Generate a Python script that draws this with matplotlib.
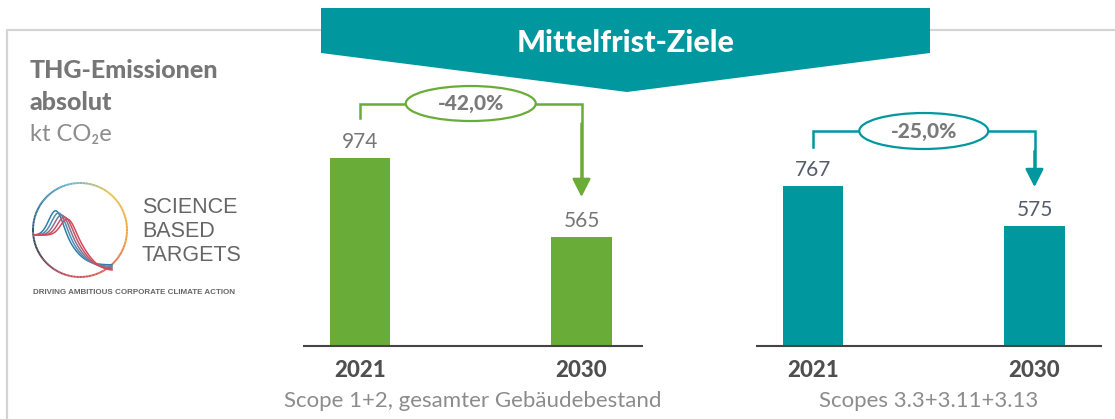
"""
THG-Emissionen absolut - Mittelfrist-Ziele (SBTi)
"""
import numpy as np
import matplotlib
matplotlib.use("Agg")
import matplotlib.pyplot as plt
from matplotlib.patches import Polygon, Ellipse
from matplotlib.collections import LineCollection

plt.rcParams["font.family"] = ["Lato", "DejaVu Sans"]

# ===== Daten =====
years = ["2021", "2030"]
scope12_values = [974, 565]
scope3_values = [767, 575]
scope12_change = "-42,0%"
scope3_change = "-25,0%"
scope12_label = "Scope 1+2, gesamter Gebäudebestand"
scope3_label = "Scopes 3.3+3.11+3.13"

# ===== Farben =====
GREEN = "#69ac37"
TEAL = "#00979f"
GRAY_DARK = "#4f4f4f"
GRAY = "#767676"
GRAY_LIGHT = "#8c8c8c"
FRAME = "#d4d4d4"

W, H = 1115, 419
fig = plt.figure(figsize=(W / 100, H / 100), dpi=100)

# Hintergrund-Achse in Pixelkoordinaten
bg = fig.add_axes([0, 0, 1, 1])
bg.set_xlim(0, W)
bg.set_ylim(H, 0)
bg.axis("off")

# Rahmen
bg.plot([7, 7, W], [H, 30, 30], color=FRAME, lw=1.6, solid_capstyle="butt")

# Banner
bg.add_patch(Polygon([(321, 8), (930, 8), (930, 53), (627, 92), (321, 53)],
                     closed=True, facecolor=TEAL, edgecolor="none", zorder=3))
bg.text(626, 43, "Mittelfrist-Ziele", color="white", fontsize=22, fontweight="black",
        ha="center", va="center", zorder=4)

# Überschrift links
bg.text(30, 70, "THG-Emissionen", color=GRAY, fontsize=18, fontweight="black", va="center")
bg.text(30, 102, "absolut", color=GRAY, fontsize=18, fontweight="black", va="center")
bg.text(30, 134, "kt CO₂e", color=GRAY_LIGHT, fontsize=17, va="center")

# SBTi-Logo (vereinfacht)
cx, cy, r = 80, 230, 47
theta = np.linspace(0, 2 * np.pi, 200)
pts = np.column_stack([cx + r * np.cos(theta), cy - r * np.sin(theta)])
segs = np.stack([pts[:-1], pts[1:]], axis=1)
ring_cmap = matplotlib.colors.LinearSegmentedColormap.from_list(
    "ring", ["#f0a73a", "#e8c24a", "#5fb3d1", "#2d6f94", "#3a3a4a", "#c9485b", "#e0604a", "#f0a73a"])
bg.add_collection(LineCollection(segs, colors=ring_cmap(np.linspace(0, 1, len(segs))), lw=1.4))
xs = np.linspace(34, 112, 120)
curve_cols = ["#2f7fa6", "#4f8db3", "#8a7090", "#c05468", "#d9485a"]
for i, c in enumerate(curve_cols):
    ys = (235 - (26 - 2 * i) * np.exp(-((xs - (56 + 3 * i)) / 10) ** 2)
          + (30 + 1.5 * i) / (1 + np.exp(-(xs - (75 + 3 * i)) / 7)))
    bg.plot(xs, ys, color=c, lw=1.1)
for k, word in enumerate(["SCIENCE", "BASED", "TARGETS"]):
    bg.text(142, 207 + 24 * k, word, color="#666666", fontsize=15.5,
            family="Liberation Sans", va="center")
bg.text(33, 292, "DRIVING AMBITIOUS CORPORATE CLIMATE ACTION", color="#666666",
        fontsize=5.8, family="Liberation Sans", fontweight="bold", va="center")


def bar_panel(x0, x1, px_per_unit, values, color, label_color, change, subtitle,
              start_gap, top_px_above, ell_w, ell_h):
    """Ein Balkenpanel zeichnen, Pixelposition x0..x1, Basislinie y=346"""
    base, top = 346, 30
    ax = fig.add_axes([x0 / W, 1 - base / H, (x1 - x0) / W, (base - top) / H])
    ax.patch.set_alpha(0)
    centers = np.arange(len(values))
    ax.bar(centers, values, width=0.275, color=color, zorder=2)
    ax.set_ylim(0, (base - top) / px_per_unit)
    spacing = 221.5
    ax.set_xlim(-56 / spacing, -56 / spacing + (x1 - x0) / spacing)
    for s in ["top", "right", "left"]:
        ax.spines[s].set_visible(False)
    ax.spines["bottom"].set_color("#444444")
    ax.spines["bottom"].set_linewidth(1.5)
    ax.set_yticks([])
    ax.set_xticks(centers)
    ax.set_xticklabels(years, fontsize=16, fontweight="black", color=GRAY_DARK)
    ax.tick_params(axis="x", length=0, pad=10)
    ax.set_xlabel(subtitle, fontsize=16, color=GRAY_LIGHT, labelpad=7)

    for xc, v in zip(centers, values):
        ax.annotate(str(v), (xc, v), xytext=(0, 4), textcoords="offset points",
                    ha="center", va="bottom", fontsize=15, color=label_color)

    # Klammer mit Pfeil
    gap = start_gap / px_per_unit
    y_top = values[0] + top_px_above / px_per_unit
    ew = ell_w / spacing
    eh = ell_h / px_per_unit
    ax.plot([0, 0, 0.5 - ew / 2], [values[0] + gap, y_top, y_top], color=color, lw=1.8,
            solid_joinstyle="miter")
    ax.plot([0.5 + ew / 2, 1, 1], [y_top, y_top, values[1] + gap + 10 / px_per_unit],
            color=color, lw=1.8, solid_joinstyle="miter")
    ax.annotate("", xy=(1, values[1] + gap), xytext=(1, y_top - 20 / px_per_unit),
                arrowprops=dict(arrowstyle="-|>,head_length=0.55,head_width=0.28",
                                color=color, lw=1.8, mutation_scale=20,
                                shrinkA=0, shrinkB=0))
    ax.add_patch(Ellipse((0.5, y_top), ew, eh, facecolor="white", edgecolor=color, lw=1.6, zorder=3))
    ax.text(0.5, y_top, change, ha="center", va="center", fontsize=15, fontweight="black",
            color="#7a7a7a", zorder=4)
    return ax


bar_panel(304, 642, 0.193, scope12_values, GREEN, GRAY, scope12_change, scope12_label,
          start_gap=40, top_px_above=54.5, ell_w=130, ell_h=35)
bar_panel(757, 1101, 0.2086, scope3_values, TEAL, "#545b6b", scope3_change, scope3_label,
          start_gap=39, top_px_above=55, ell_w=129, ell_h=36)

plt.savefig("out.png", dpi=100)
